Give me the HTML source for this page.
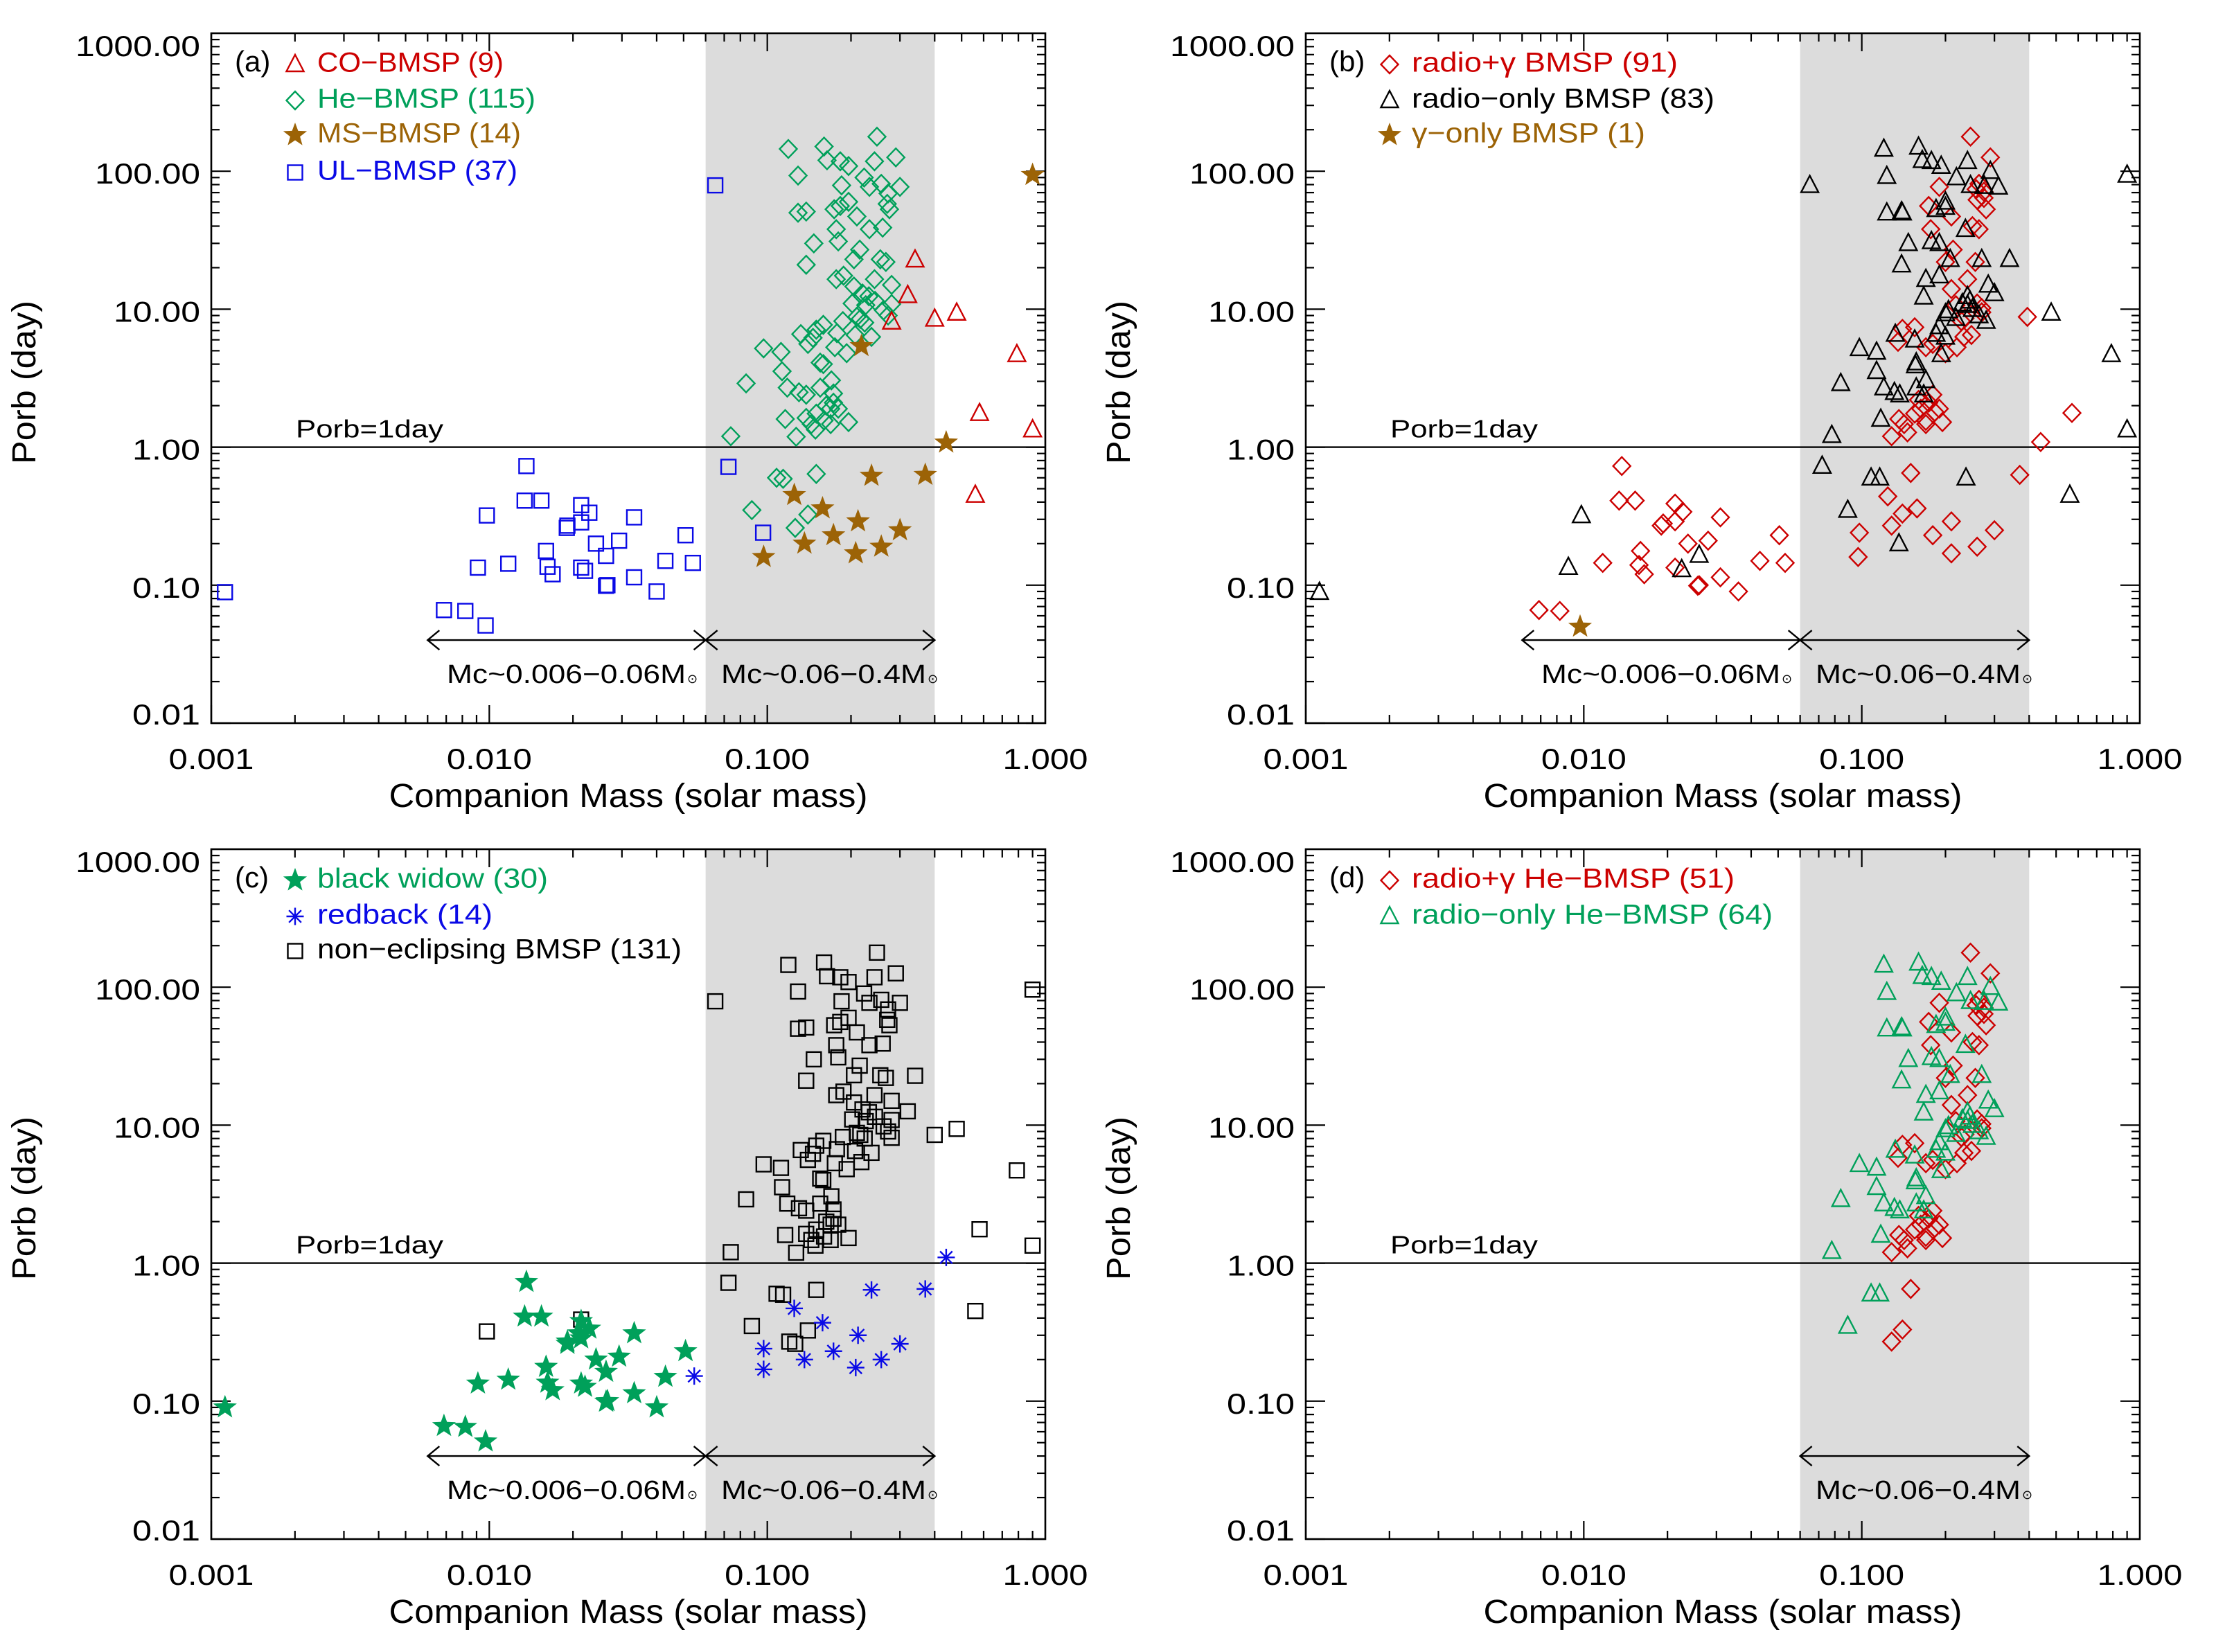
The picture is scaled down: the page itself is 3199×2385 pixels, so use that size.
<!DOCTYPE html>
<html><head><meta charset="utf-8">
<style>
html,body{margin:0;padding:0;background:#fff;}
svg{display:block;}
text{font-family:"Liberation Sans","DejaVu Sans",sans-serif;}
</style></head>
<body>
<svg id="fig" width="3199" height="2385" viewBox="0 0 3199 2385" xmlns="http://www.w3.org/2000/svg"></svg>
<script>
// ---- data (companion mass [Msun], orbital period [day]) ----
const xTickLabels = ["0.001","0.010","0.100","1.000"];
const xTickValues = [0.001,0.01,0.1,1];
const yTickLabels = ["1000.00","100.00","10.00","1.00","0.10","0.01"];
const yTickValues = [1000,100,10,1,0.1,0.01];

const coBMSP = [[0.34,22.8],[0.32,12.6],[0.28,8.1],[0.40,8.5],[0.48,9.4],[0.79,4.7],[0.58,1.76],[0.90,1.34],[0.56,0.45]];
const msBMSP = [[0.90,94],[0.218,5.4],[0.44,1.08],[0.237,0.62],[0.37,0.63],[0.125,0.45],[0.158,0.36],[0.212,0.29],[0.30,0.25],[0.136,0.20],[0.173,0.23],[0.097,0.16],[0.208,0.17],[0.257,0.19]];
const ulBMSP = [[0.00112,0.089],[0.065,79],[0.0725,0.72],[0.0966,0.24],[0.0136,0.73],[0.0134,0.41],[0.0154,0.41],[0.0098,0.32],[0.0214,0.38],[0.0229,0.335],[0.0214,0.285],[0.0191,0.27],[0.019,0.26],[0.0332,0.31],[0.0508,0.23],[0.0242,0.20],[0.0293,0.21],[0.016,0.177],[0.0263,0.163],[0.0091,0.134],[0.0117,0.143],[0.0162,0.136],[0.0169,0.12],[0.0214,0.134],[0.0221,0.127],[0.043,0.15],[0.054,0.145],[0.0332,0.114],[0.0263,0.099],[0.0266,0.1],[0.040,0.09],[0.00687,0.066],[0.0082,0.065],[0.0097,0.051]];
const heBMSP = [[0.119,145],[0.16,151],[0.248,178],[0.129,93],[0.164,120],[0.183,118],[0.196,109],[0.223,90],[0.243,118],[0.29,126],[0.30,77],[0.257,81],[0.272,69],[0.27,58],[0.275,53],[0.233,77],[0.185,79],[0.196,60],[0.183,56],[0.174,53],[0.21,47],[0.129,50],[0.138,51],[0.177,38],[0.233,38],[0.26,39],[0.147,30],[0.18,31],[0.215,27],[0.138,21],[0.205,23],[0.255,23],[0.267,22],[0.28,15],[0.243,16.5],[0.177,16.5],[0.188,17.5],[0.205,14.6],[0.22,13],[0.232,12.4],[0.244,11.5],[0.226,10.7],[0.28,10.9],[0.202,11],[0.262,9.8],[0.272,9],[0.21,8.8],[0.216,8.5],[0.187,8.2],[0.224,8],[0.159,7.7],[0.15,7.1],[0.178,6.7],[0.207,6.5],[0.237,6.3],[0.132,6.6],[0.146,6.2],[0.14,5.6],[0.175,5.3],[0.193,4.8],[0.097,5.2],[0.112,4.9],[0.155,4.1],[0.159,4.0],[0.113,3.55],[0.0839,2.9],[0.17,3.05],[0.118,2.7],[0.13,2.5],[0.138,2.4],[0.173,2.45],[0.155,2.7],[0.173,2.1],[0.163,2.0],[0.169,1.9],[0.18,1.9],[0.15,1.75],[0.138,1.63],[0.116,1.6],[0.16,1.56],[0.144,1.47],[0.169,1.47],[0.196,1.52],[0.149,1.34],[0.127,1.19],[0.0739,1.2],[0.108,0.6],[0.114,0.59],[0.15,0.64],[0.088,0.35],[0.14,0.325],[0.126,0.26]];

const radioGammaLow = [[0.0069,0.066],[0.0082,0.065],[0.0137,0.73],[0.0134,0.41],[0.0153,0.41],[0.0117,0.145],[0.016,0.177],[0.0158,0.14],[0.0165,0.12],[0.019,0.27],[0.0193,0.28],[0.0213,0.39],[0.0213,0.29],[0.0227,0.34],[0.0213,0.134],[0.0237,0.2],[0.0257,0.099],[0.026,0.1],[0.028,0.21],[0.031,0.31],[0.031,0.114],[0.036,0.09],[0.043,0.15],[0.0505,0.23],[0.053,0.145],[0.44,1.09],[0.57,1.77],[0.37,0.63],[0.124,0.44],[0.098,0.24],[0.097,0.16],[0.158,0.36],[0.18,0.23],[0.21,0.29],[0.21,0.17],[0.26,0.19],[0.3,0.25],[0.394,8.8]];
const radioGammaHe = [[0.246,178],[0.29,126],[0.19,77],[0.264,81],[0.275,71],[0.26,62],[0.28,53],[0.174,56],[0.21,47],[0.177,38],[0.25,40],[0.264,38],[0.213,27],[0.256,22],[0.24,16.5],[0.21,14],[0.218,10.7],[0.27,10.2],[0.228,8.2],[0.14,7.2],[0.155,7.4],[0.233,6.3],[0.135,5.8],[0.17,5.3],[0.22,5.3],[0.2,4.8],[0.18,2.4],[0.174,2.1],[0.163,1.9],[0.183,1.8],[0.155,1.75],[0.136,1.6],[0.17,1.55],[0.142,1.47],[0.195,1.52],[0.17,1.47],[0.146,1.28],[0.128,1.2],[0.15,0.65],[0.14,0.33],[0.128,0.27],[0.27,9.5],[0.235,8.6],[0.26,11],[0.18,5.6],[0.248,6.5],[0.275,64],[0.258,74],[0.2,22],[0.16,2.2],[0.19,1.9]];
const radioOnlyOther = [[0.00112,0.089],[0.065,79],[0.072,0.73],[0.0098,0.32],[0.0088,0.135],[0.0225,0.13],[0.026,0.165],[0.79,4.7],[0.56,0.45],[0.9,94],[0.9,1.34],[0.48,9.4],[0.136,0.2],[0.237,0.6],[0.34,23]];
const radioOnlyHe = [[0.078,1.22],[0.084,2.9],[0.089,0.35],[0.098,5.2],[0.113,4.9],[0.113,3.55],[0.12,145],[0.123,92],[0.123,50],[0.139,51],[0.147,30],[0.139,21],[0.108,0.6],[0.116,0.6],[0.117,1.6],[0.12,2.7],[0.131,2.5],[0.137,2.4],[0.16,150],[0.165,120],[0.178,118],[0.193,109],[0.219,90],[0.24,118],[0.29,100],[0.246,79],[0.31,77],[0.276,78],[0.2,60],[0.185,53],[0.178,31],[0.19,30],[0.236,38],[0.208,23],[0.27,23],[0.17,16.5],[0.19,17.5],[0.167,12.3],[0.24,12.4],[0.285,15],[0.3,13],[0.23,11],[0.24,10.7],[0.2,9.3],[0.218,8.6],[0.28,8.2],[0.264,9.0],[0.132,6.6],[0.155,6.0],[0.185,6.6],[0.2,6.3],[0.193,4.7],[0.157,4.1],[0.156,3.9],[0.17,3.05],[0.157,2.7],[0.167,2.4],[0.19,7.5],[0.205,9.8],[0.25,10],[0.2,55],[0.14,50],[0.245,11.5]];
const gammaOnly = [[0.0097,0.05]];

const blackWidow = [[0.00112,0.09],[0.0136,0.73],[0.0134,0.41],[0.0154,0.41],[0.0214,0.38],[0.0229,0.335],[0.0214,0.285],[0.0191,0.27],[0.0332,0.31],[0.0508,0.23],[0.0242,0.20],[0.0293,0.21],[0.016,0.177],[0.0263,0.163],[0.0091,0.134],[0.0117,0.143],[0.0162,0.136],[0.0169,0.12],[0.0214,0.134],[0.0221,0.127],[0.043,0.15],[0.0332,0.114],[0.0263,0.099],[0.0266,0.1],[0.040,0.09],[0.00687,0.066],[0.0082,0.065],[0.0097,0.051],[0.0191,0.26],[0.021,0.31]];
const redback = [[0.0546,0.152],[0.44,1.1],[0.237,0.64],[0.37,0.65],[0.125,0.47],[0.158,0.37],[0.212,0.30],[0.30,0.26],[0.097,0.24],[0.173,0.23],[0.136,0.20],[0.257,0.20],[0.097,0.17],[0.208,0.175]];
const nonEclipsingExtra = [[0.065,79],[0.0725,0.72],[0.0098,0.32],[0.0214,0.39],[0.9,96],[0.218,5.4],[0.12,0.27]];

const C = {red:"#cc0000", green:"#00a05a", brown:"#9c6306", blue:"#0a0ae6", black:"#000"};
const NS = "http://www.w3.org/2000/svg";
const svg = document.getElementById("fig");
const W = 1204, H = 996;

function el(tag, attrs, parent){
  const e = document.createElementNS(NS, tag);
  for (const k in attrs) e.setAttribute(k, attrs[k]);
  (parent||svg).appendChild(e);
  return e;
}
function marker(g, type, cx, cy, color){
  let e;
  if (type==="tri"){
    e = el("polygon",{points:`${cx},${cy-14} ${cx+12.5},${cy+10} ${cx-12.5},${cy+10}`,fill:"none",stroke:color,"stroke-width":2.4},g);
  } else if (type==="dia"){
    e = el("polygon",{points:`${cx},${cy-13} ${cx+12.5},${cy} ${cx},${cy+13} ${cx-12.5},${cy}`,fill:"none",stroke:color,"stroke-width":2.4},g);
  } else if (type==="sq"){
    e = el("rect",{x:cx-10.5,y:cy-10.5,width:21,height:21,fill:"none",stroke:color,"stroke-width":2.4},g);
  } else if (type==="star"){
    let p=[];
    for(let i=0;i<10;i++){const r=i%2?7.5:18;const a=-Math.PI/2+i*Math.PI/5;p.push((cx+r*Math.cos(a)).toFixed(1)+","+(cy+r*Math.sin(a)).toFixed(1));}
    e = el("polygon",{points:p.join(" "),fill:color,stroke:"none"},g);
  } else if (type==="ast"){
    const r=12.5,d=r*0.707;
    e = el("path",{d:`M${cx},${cy-r}V${cy+r}M${cx-r},${cy}H${cx+r}M${cx-d},${cy-d}L${cx+d},${cy+d}M${cx-d},${cy+d}L${cx+d},${cy-d}`,stroke:color,"stroke-width":2.4,fill:"none"},g);
  }
  return e;
}

function panel(id, ox, oy, letter, legend, series, showLowArrow){
  const g = el("g",{});
  
  
  const sx = m => ox + (Math.log10(m)+3)/3*W;
  const sy = p => oy + (3-Math.log10(p))/5*H;
  const sh = el("rect",{x:sx(0.06),y:oy,width:sx(0.4)-sx(0.06),height:H,fill:"#dcdcdc"},g);
  
  
  const tk = el("g",{stroke:"#000","stroke-width":2.2},g);
  
  
  for (let d=-3; d<0; d++){
    for (let k=1;k<10;k++){
      const x = sx(k*Math.pow(10,d)); const L = k===1?26:12;
      el("line",{x1:x,y1:oy+H,x2:x,y2:oy+H-L},tk);
      el("line",{x1:x,y1:oy,x2:x,y2:oy+L},tk);
    }
  }
  for (let d=-2; d<3; d++){
    for (let k=1;k<10;k++){
      const y = sy(k*Math.pow(10,d)); const L = k===1?28:12;
      el("line",{x1:ox,y1:y,x2:ox+L,y2:y},tk);
      el("line",{x1:ox+W,y1:y,x2:ox+W-L,y2:y},tk);
    }
  }
  const ln = el("line",{x1:ox,y1:sy(1),x2:ox+W,y2:sy(1),stroke:"#000","stroke-width":2.4},g);
  
  
  const lt = el("text",{x:ox+122,y:sy(1)-14,"font-size":36,textLength:213,lengthAdjust:"spacingAndGlyphs"},g);
  lt.textContent = "Porb=1day";
  
  
  const ay = sy(0.04);
  function arrow(m1,m2,name,label,lx1,lx2){
    const a = el("g",{stroke:"#000","stroke-width":2.4,fill:"none"},g);
    
    
    const x1=sx(m1), x2=sx(m2);
    el("path",{d:`M${x1},${ay}H${x2}M${x1+17},${ay-14}L${x1},${ay}L${x1+17},${ay+14}M${x2-17},${ay-14}L${x2},${ay}L${x2-17},${ay+14}`},a);
    const t = el("text",{x:ox+lx1,y:oy+938,"font-size":38,fill:"#000",stroke:"none",textLength:lx2-lx1-16,lengthAdjust:"spacingAndGlyphs"},g);
    t.textContent = label;
    
    
    const s = el("text",{x:ox+lx2-14,y:oy+938,"font-size":18,fill:"#000"},g);
    s.textContent = "⊙";
  }
  if (showLowArrow) arrow(0.006,0.06,"arrow-low-mass","Mc~0.006−0.06M",340,701);
  arrow(0.06,0.4,"arrow-he-mass","Mc~0.06−0.4M",736,1048);
  series.forEach(s=>{
    const sg = el("g",{},g);
    
    
    s.data.forEach(p=>{
      const m = marker(sg, s.type, sx(p[0]), sy(p[1]), s.color);
      
      
    });
  });
  const fr = el("rect",{x:ox,y:oy,width:W,height:H,fill:"none",stroke:"#000","stroke-width":2.6},g);
  
  
  xTickValues.forEach((v,i)=>{
    const t = el("text",{x:sx(v),y:oy+H+66,"font-size":42,"text-anchor":"middle",textLength:123,lengthAdjust:"spacingAndGlyphs"},g);
    t.textContent = xTickLabels[i];
    
    
  });
  const yw = [180,152,125,98,98,98];
  yTickValues.forEach((v,i)=>{
    const y = i===0? sy(v)+33 : (i===5? sy(v)+2 : sy(v)+18);
    const t = el("text",{x:ox-16-yw[i],y:y,"font-size":42,textLength:yw[i],lengthAdjust:"spacingAndGlyphs"},g);
    t.textContent = yTickLabels[i];
    
    
  });
  const xt = el("text",{x:ox+602,y:oy+H+121,"font-size":48,"text-anchor":"middle",textLength:691,lengthAdjust:"spacingAndGlyphs"},g);
  xt.textContent = "Companion Mass (solar mass)";
  
  
  const yt = el("text",{x:0,y:0,"font-size":48,"text-anchor":"middle",textLength:236,lengthAdjust:"spacingAndGlyphs",transform:`translate(${ox-254},${oy+504}) rotate(-90)`},g);
  yt.textContent = "Porb (day)";
  
  
  const pl = el("text",{x:ox+34,y:oy+55,"font-size":42},g);
  pl.textContent = "("+letter+")";
  
  
  const rows=[45,97,147,201];
  legend.forEach((L,i)=>{
    const lg = el("g",{},g);
    
    
    marker(lg, L.type, ox+121, oy+rows[i], L.color);
    const t = el("text",{x:ox+153,y:oy+rows[i],"font-size":40,fill:L.color,textLength:L.w,lengthAdjust:"spacingAndGlyphs"},lg);
    t.setAttribute("dominant-baseline","middle");
    t.textContent = L.text;
  });
}

panel("a",305,48,"a",
  [{type:"tri",color:C.red,text:"CO−BMSP (9)",w:269},
   {type:"dia",color:C.green,text:"He−BMSP (115)",w:315},
   {type:"star",color:C.brown,text:"MS−BMSP (14)",w:294},
   {type:"sq",color:C.blue,text:"UL−BMSP (37)",w:289}],
  [{name:"he-bmsp-series",type:"dia",color:C.green,data:heBMSP},
   {name:"co-bmsp-series",type:"tri",color:C.red,data:coBMSP},
   {name:"ul-bmsp-series",type:"sq",color:C.blue,data:ulBMSP},
   {name:"ms-bmsp-series",type:"star",color:C.brown,data:msBMSP}], true);

panel("b",1885,48,"b",
  [{type:"dia",color:C.red,text:"radio+γ BMSP (91)",w:384},
   {type:"tri",color:C.black,text:"radio−only BMSP (83)",w:437},
   {type:"star",color:C.brown,text:"γ−only BMSP (1)",w:337}],
  [{name:"radio-gamma-bmsp-series",type:"dia",color:C.red,data:radioGammaHe.concat(radioGammaLow)},
   {name:"radio-only-bmsp-series",type:"tri",color:C.black,data:radioOnlyHe.concat(radioOnlyOther)},
   {name:"gamma-only-bmsp-series",type:"star",color:C.brown,data:gammaOnly}], true);

panel("c",305,1226,"c",
  [{type:"star",color:C.green,text:"black widow (30)",w:333},
   {type:"ast",color:C.blue,text:"redback (14)",w:253},
   {type:"sq",color:C.black,text:"non−eclipsing BMSP (131)",w:526}],
  [{name:"non-eclipsing-series",type:"sq",color:C.black,data:heBMSP.concat(coBMSP).concat(nonEclipsingExtra)},
   {name:"black-widow-series",type:"star",color:C.green,data:blackWidow},
   {name:"redback-series",type:"ast",color:C.blue,data:redback}], true);

panel("d",1885,1226,"d",
  [{type:"dia",color:C.red,text:"radio+γ He−BMSP (51)",w:466},
   {type:"tri",color:C.green,text:"radio−only He−BMSP (64)",w:521}],
  [{name:"radio-gamma-he-series",type:"dia",color:C.red,data:radioGammaHe},
   {name:"radio-only-he-series",type:"tri",color:C.green,data:radioOnlyHe}], false);
</script>
</body></html>
